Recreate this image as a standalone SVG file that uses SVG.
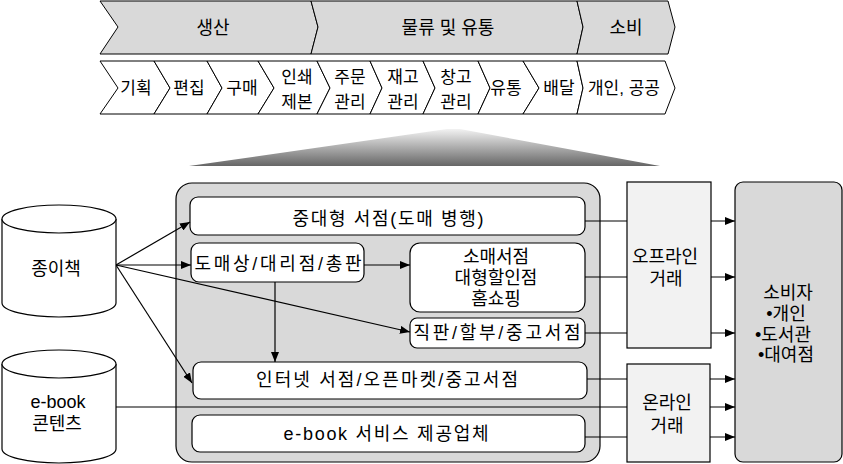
<svg xmlns="http://www.w3.org/2000/svg" width="843" height="464" viewBox="0 0 843 464">
<defs>
<style>
text{font-family:"Liberation Sans","Noto Sans CJK KR",sans-serif;fill:#000;text-anchor:middle;dominant-baseline:central}
.t18{font-size:18px}
.t17{font-size:17px}
.chev1{fill:#d9d9d9;stroke:#000;stroke-width:1}
.chev2{fill:#fff;stroke:#000;stroke-width:1}
.box{fill:#fff;stroke:#000;stroke-width:1.2}
.gbox{fill:#d9d9d9;stroke:#000;stroke-width:1.2}
.lbox{fill:#f2f2f2;stroke:#000;stroke-width:1.2}
.cyl{fill:#fff;stroke:#000;stroke-width:1.2}
.ln{fill:none;stroke:#000;stroke-width:1.2}
.arr{marker-end:url(#ah)}
</style>
<marker id="ah" markerUnits="userSpaceOnUse" markerWidth="10" markerHeight="8" refX="10" refY="4" orient="auto">
<path d="M0,0 L10,4 L0,8 Z" fill="#000"/>
</marker>
<linearGradient id="tg" x1="0" y1="0" x2="0" y2="1">
<stop offset="0" stop-color="#f2f2f2"/>
<stop offset="1" stop-color="#666"/>
</linearGradient>
</defs>

<g id="stage-row">
<g id="s-production"><polygon class="chev1" points="100,1 311,1 318,27 311,54 100,54 118,27"/><text class="t18" x="213" y="28">생산</text></g>
<g id="s-logistics"><polygon class="chev1" points="311,1 577,1 583,27 577,54 311,54 318,27"/><text class="t18" x="448" y="28">물류 및 유통</text></g>
<g id="s-consume"><polygon class="chev1" points="577,1 668,1 675,27 668,54 577,54 583,27"/><text class="t18" x="626" y="28">소비</text></g>
</g>

<g id="step-row">
<g id="p1"><polygon class="chev2" points="100,61 154,61 170,88 154,114 100,114 118,88"/><text class="t17" x="136" y="88">기획</text></g>
<g id="p2"><polygon class="chev2" points="154,61 207,61 222,88 207,114 154,114 170,88"/><text class="t17" x="189" y="88">편집</text></g>
<g id="p3"><polygon class="chev2" points="207,61 258,61 274,88 258,114 207,114 222,88"/><text class="t17" x="242" y="88">구매</text></g>
<g id="p4"><polygon class="chev2" points="258,61 317,61 330,88 317,114 258,114 274,88"/><text class="t17" x="297" y="77">인쇄</text><text class="t17" x="297" y="102">제본</text></g>
<g id="p5"><polygon class="chev2" points="317,61 370,61 382,88 370,114 317,114 330,88"/><text class="t17" x="350" y="77">주문</text><text class="t17" x="350" y="102">관리</text></g>
<g id="p6"><polygon class="chev2" points="370,61 423,61 435,88 423,114 370,114 382,88"/><text class="t17" x="403" y="77">재고</text><text class="t17" x="403" y="102">관리</text></g>
<g id="p7"><polygon class="chev2" points="423,61 478,61 490,88 478,114 423,114 435,88"/><text class="t17" x="456" y="77">창고</text><text class="t17" x="456" y="102">관리</text></g>
<g id="p8"><polygon class="chev2" points="478,61 523,61 539,88 523,114 478,114 490,88"/><text class="t17" x="506" y="88">유통</text></g>
<g id="p9"><polygon class="chev2" points="523,61 577,61 583,88 577,114 523,114 539,88"/><text class="t17" x="559" y="88">배달</text></g>
<g id="p10"><polygon class="chev2" points="577,61 665,61 675,88 665,114 577,114 583,88"/><text class="t17" x="624" y="88">개인, 공공</text></g>
</g>

<g id="zoom-wedge"><polygon points="189,166 447,129 460,129 660,166" fill="url(#tg)"/></g>

<g id="channel-area"><rect class="gbox" x="176" y="183" width="424" height="279" rx="16"/></g>

<g id="n-midlarge"><rect class="box" x="190" y="197" width="395" height="38" rx="8"/><text class="t18" x="388" y="219" textLength="191" lengthAdjust="spacing">중대형 서점(도매 병행)</text></g>
<g id="n-wholesale"><rect class="box" x="191" y="243" width="173" height="39" rx="8"/><text class="t18" x="278" y="264" textLength="167" lengthAdjust="spacing">도매상/대리점/총판</text></g>
<g id="n-retail"><rect class="box" x="410" y="243" width="175" height="69" rx="10"/><text class="t18" x="496" y="257">소매서점</text><text class="t18" x="496" y="278">대형할인점</text><text class="t18" x="496" y="299">홈쇼핑</text></g>
<g id="n-direct"><rect class="box" x="410" y="318" width="175" height="30" rx="7"/><text class="t18" x="497" y="333" textLength="167" lengthAdjust="spacing">직판/할부/중고서점</text></g>
<g id="n-internet"><rect class="box" x="193" y="362" width="394" height="37" rx="8"/><text class="t18" x="387" y="380" textLength="262" lengthAdjust="spacing">인터넷 서점/오픈마켓/중고서점</text></g>
<g id="n-ebooksvc"><rect class="box" x="192" y="415" width="393" height="37" rx="8"/><text class="t18" x="386" y="434" textLength="205" lengthAdjust="spacing">e-book  서비스 제공업체</text></g>

<g id="connectors">
<line class="ln arr" x1="116" y1="265" x2="190" y2="222"/>
<line class="ln arr" x1="116" y1="265" x2="191" y2="265"/>
<line class="ln arr" x1="116" y1="265" x2="410" y2="332"/>
<line class="ln arr" x1="116" y1="265" x2="192" y2="383"/>
<line class="ln arr" x1="364" y1="265" x2="410" y2="265"/>
<line class="ln arr" x1="275" y1="282" x2="275" y2="362"/>
<line class="ln arr" x1="585" y1="221" x2="735" y2="221"/>
<line class="ln arr" x1="585" y1="277" x2="735" y2="277"/>
<line class="ln arr" x1="585" y1="333" x2="735" y2="333"/>
<line class="ln arr" x1="587" y1="379" x2="735" y2="379"/>
<line class="ln arr" x1="116" y1="407" x2="735" y2="407"/>
<line class="ln arr" x1="585" y1="437" x2="735" y2="437"/>
</g>

<g id="n-offline"><rect class="lbox" x="627" y="182" width="84" height="166"/><text class="t18" x="665" y="257">오프라인</text><text class="t18" x="666" y="279">거래</text></g>
<g id="n-online"><rect class="lbox" x="627" y="364" width="83" height="98"/><text class="t18" x="667" y="403">온라인</text><text class="t18" x="667" y="426">거래</text></g>
<g id="n-consumer"><rect class="gbox" x="735" y="182" width="107" height="280" rx="8"/><text class="t18" x="788" y="293">소비자</text><text class="t18" x="786" y="314">•개인</text><text class="t18" x="783" y="335">•도서관</text><text class="t18" x="786" y="355">•대여점</text></g>

<g id="n-paperbook"><path class="cyl" d="M2,219 L2,303 A57,14 0 0 0 116,303 L116,219"/><ellipse class="cyl" cx="59" cy="219" rx="57" ry="14"/><text class="t18" x="56" y="269">종이책</text></g>
<g id="n-ebook"><path class="cyl" d="M2,364 L2,449 A57,14 0 0 0 116,449 L116,364"/><ellipse class="cyl" cx="59" cy="364" rx="57" ry="14"/><text class="t18" x="58" y="402">e-book</text><text class="t18" x="57" y="424">콘텐츠</text></g>
</svg>
